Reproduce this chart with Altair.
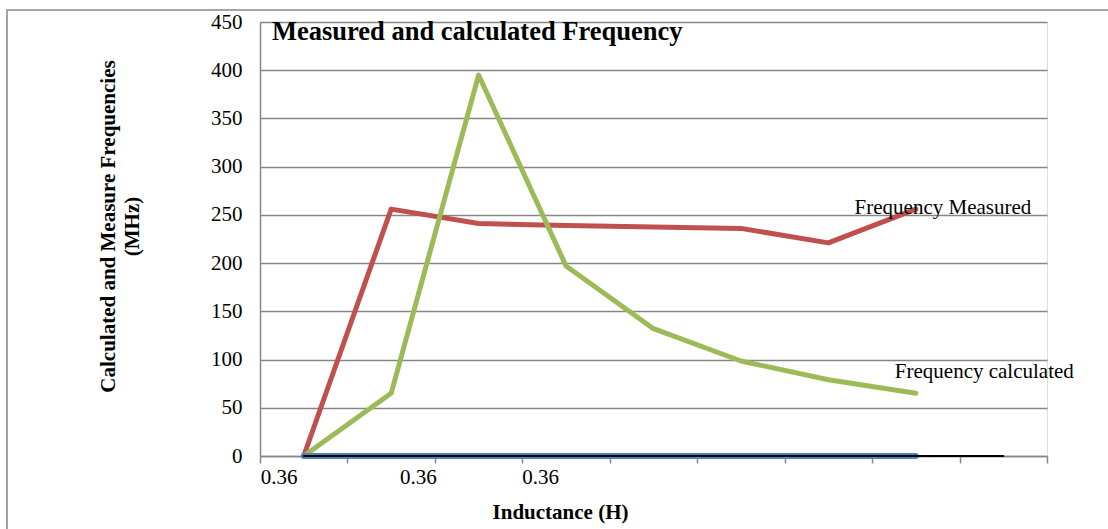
import altair as alt
import pandas as pd

# ---- data ----
categories = [1, 2, 3, 4, 5, 6, 7, 8, 9]
measured = [0, 256, 241, 239, 237.5, 236, 221, 256, None]
calculated = [0, 65, 395, 197, 132, 98.5, 79, 65, None]
zero_blue = [0, 0, 0, 0, 0, 0, 0, 0, None]
zero_black = [0, 0, 0, 0, 0, 0, 0, 0, 0]

tick_label_text = ["0.36", "0.36", "0.36"]
tick_label_pos = [0.22, 1.81, 3.21]

series_labels = ["Frequency Measured", "Frequency calculated"]
series_label_x = [6.80, 7.26]
series_label_y = [257, 87]

title_text = "Measured and calculated Frequency"
FONT = "Liberation Serif"
GREY = "#868686"

rows = []
for name, vals in [("Blue", zero_blue), ("Black", zero_black),
                   ("Measured", measured), ("Calculated", calculated)]:
    for c, v in zip(categories, vals):
        if v is not None:
            rows.append({"series": name, "x": c - 0.5, "y": v})
df = pd.DataFrame(rows)

W, H = 787, 434

xscale = alt.Scale(domain=[0, 9], nice=False, zero=False)
yscale = alt.Scale(domain=[0, 450], nice=False)

xaxis = alt.Axis(values=list(range(10)), labels=False, tickColor=GREY, tickSize=7,
                 tickWidth=1.5, domainColor=GREY, domainWidth=1.5, grid=False,
                 title="Inductance (H)", titleFont=FONT, titleFontSize=21,
                 titleFontWeight="bold", titleColor="black", titleX=300, titleY=56,
                 titleBaseline="middle", titleAlign="center")
yaxis = alt.Axis(values=list(range(0, 451, 50)), ticks=False, labelFont=FONT,
                 labelFontSize=21, labelColor="black", labelPadding=18,
                 domainColor=GREY, domainWidth=1.5, gridColor=GREY, gridWidth=1.5,
                 title=["Calculated and Measure Frequencies", "(MHz)"],
                 titleFont=FONT, titleFontSize=21, titleFontWeight="bold",
                 titleColor="black", titleX=-152, titleY=204, titleLineHeight=24,
                 titleAngle=270, titleAlign="center", titleBaseline="middle")

base = alt.Chart(df)

def line(name, color, width):
    return base.transform_filter(alt.datum.series == name).mark_line(
        color=color, strokeWidth=width, strokeCap="round", strokeJoin="round"
    ).encode(x=alt.X("x:Q", scale=xscale, axis=xaxis),
             y=alt.Y("y:Q", scale=yscale, axis=yaxis))

layers = [
    line("Measured", "#C0504D", 5),
    line("Calculated", "#9BBB59", 5),
    line("Blue", "#4F81BD", 6),
    line("Black", "#000000", 2),
]

lab_df = pd.DataFrame({"t": series_labels, "x": series_label_x, "y": series_label_y})
labels = alt.Chart(lab_df).mark_text(font=FONT, fontSize=21, align="left",
                                     baseline="middle", color="black").encode(
    x=alt.X("x:Q", scale=xscale), y=alt.Y("y:Q", scale=yscale), text="t:N")

tick_df = pd.DataFrame({"t": tick_label_text, "x": tick_label_pos})
ticklabels = alt.Chart(tick_df).mark_text(font=FONT, fontSize=21, align="center",
                                          baseline="middle", color="black").encode(
    x=alt.X("x:Q", scale=xscale), y=alt.value(H + 22), text="t:N")

title_df = pd.DataFrame({"t": [title_text]})
title = alt.Chart(title_df).mark_text(font=FONT, fontSize=26.5, fontWeight="bold",
                                      align="left", baseline="middle", color="black").encode(
    x=alt.value(12), y=alt.value(10), text="t:N")

border = alt.Chart(title_df).mark_rect(fill=None, stroke=GREY, strokeWidth=1.5).encode(
    x=alt.value(-253), x2=alt.value(870), y=alt.value(-12), y2=alt.value(530))

chart = alt.layer(border, *layers, labels, ticklabels, title).properties(
    width=W, height=H,
    autosize=alt.AutoSizeParams(type="none"),
    padding={"left": 260, "top": 22, "right": 61, "bottom": 73},
).configure_view(stroke=None).configure(background="white")

chart.save("out.html", embed_options={"renderer": "svg", "actions": False})
